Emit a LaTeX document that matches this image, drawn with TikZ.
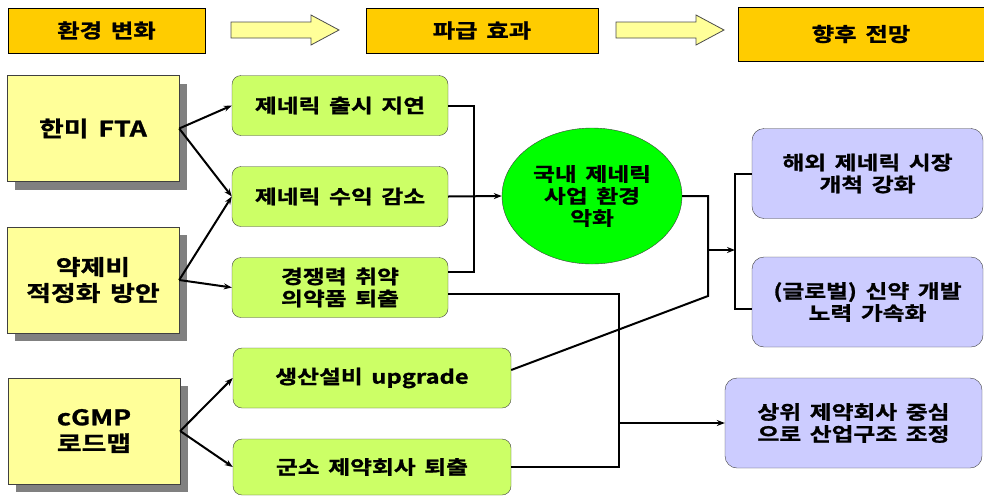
\documentclass[tikz,border=0pt]{standalone}
\usepackage{fontspec}
\newfontfamily\kr[FakeStretch=1.25,WordSpace=1.6,BoldFont={Noto Sans CJK KR Bold},BoldFeatures={FakeBold=1.2}]{Noto Sans CJK KR}
\usetikzlibrary{shapes.geometric,shadows,arrows.meta}
\definecolor{hdgold}{HTML}{FFCC00}
\definecolor{paleyel}{HTML}{FFFF99}
\definecolor{limegrn}{HTML}{CCFF66}
\definecolor{brightgrn}{HTML}{00FF00}
\definecolor{lavblue}{HTML}{CCCCFF}
\definecolor{edgegray}{HTML}{404040}
\begin{document}
\begin{tikzpicture}[x=1pt,y=-1pt,>={Stealth[length=8pt,width=6pt]},
	txt/.style={text=black,align=center,inner sep=0pt,font=\kr\bfseries\fontsize{19}{22}\selectfont},
	hdbox/.style={txt,font=\kr\bfseries\fontsize{19.5}{22}\selectfont,draw=black,fill=hdgold,line width=0.8pt,minimum height=45pt},
	hdarrow/.style={fill=paleyel,draw=gray!60!black,line width=0.8pt},
	yelbox/.style={txt,font=\kr\bfseries\fontsize{21.5}{26}\selectfont,draw=edgegray,fill=paleyel,
		minimum width=172pt,minimum height=106pt,
		drop shadow={shadow xshift=8pt,shadow yshift=-8pt,fill=black!50,opacity=1}},
	grnbox/.style={txt,draw=edgegray,fill=limegrn,rounded corners=9pt,minimum height=60pt},
	blubox/.style={txt,draw=edgegray,fill=lavblue,rounded corners=12pt,minimum height=90pt},
	conn/.style={line width=2pt,black}]
		\useasboundingbox (0,0) rectangle (984,496);
		\node[hdbox,minimum width=197pt] (hA) at (106.5,30.5) {환경 변화};
		\node[hdbox,minimum width=232pt] (hB) at (482,30.5) {파급 효과};
		\node[hdbox,minimum width=246pt,minimum height=54pt] (hC) at (861,34) {향후 전망};
		\foreach \ax in {231,616}{
			\draw[hdarrow] (\ax,22) -- ++(80,0) -- ++(0,-7) -- ++(28,15) -- ++(-28,15) -- ++(0,-7) -- ++(-80,0) -- cycle;
		}
		\node[yelbox] (yA) at (93,128.5) {한미 FTA};
		\node[yelbox] (yB) at (93,280) {약제비\\적정화 방안};
		\node[yelbox] (yC) at (94,431) {cGMP\\로드맵};
		\node[grnbox,minimum width=216pt] (g1) at (340,105.5) {제네릭 출시 지연};
		\node[grnbox,minimum width=216pt] (g2) at (340,196.5) {제네릭 수익 감소};
		\node[grnbox,minimum width=216pt] (g3) at (340,287.5) {경쟁력 취약\\의약품 퇴출};
		\node[grnbox,minimum width=278pt] (g4) at (372,378) {생산설비 upgrade};
		\node[grnbox,minimum width=278pt,minimum height=56pt] (g5) at (372,467) {군소 제약회사 퇴출};
		\node[txt,ellipse,draw=edgegray,fill=brightgrn,minimum width=180pt,minimum height=136pt] (ell) at (592,196) {국내 제네릭\\사업 환경\\악화};
		\node[blubox,minimum width=231pt] (b1) at (867.5,173.5) {해외 제네릭 시장\\개척 강화};
		\node[blubox,minimum width=231pt] (b2) at (867.5,302) {(글로벌) 신약 개발\\노력 가속화};
		\node[blubox,minimum width=257pt] (b3) at (853.5,423) {상위 제약회사 중심\\으로 산업구조 조정};
		\coordinate (jL) at (474,196);
		\coordinate (jR) at (708,296);
		\coordinate (jM) at (708,250);
		\coordinate (jB) at (735,250);
		\coordinate (jD) at (619,423);
		\foreach \s/\t in {yA/g1,yA/g2,yB/g2,yB/g3,yC/g4,yC/g5}{
			\draw[conn,->] (\s.east) -- (\t.west);
		}
		\draw[conn] (g1.east) -| (jL) |- ([yshift=15.5pt]g3.east);
		\draw[conn,->] (g2.east) -- (ell.west);
		\draw[conn] (ell.east) -| (jR) -- ([yshift=8pt]g4.east);
		\draw[conn,->] (jM) -- (jB);
		\draw[conn] (b1.west) -| (jB) |- ([yshift=-7pt]b2.west);
		\draw[conn] ([yshift=-6.5pt]g3.east) -| (jD) |- (g5.east);
		\draw[conn,->] (jD) -- (b3.west);
\end{tikzpicture}
\end{document}
